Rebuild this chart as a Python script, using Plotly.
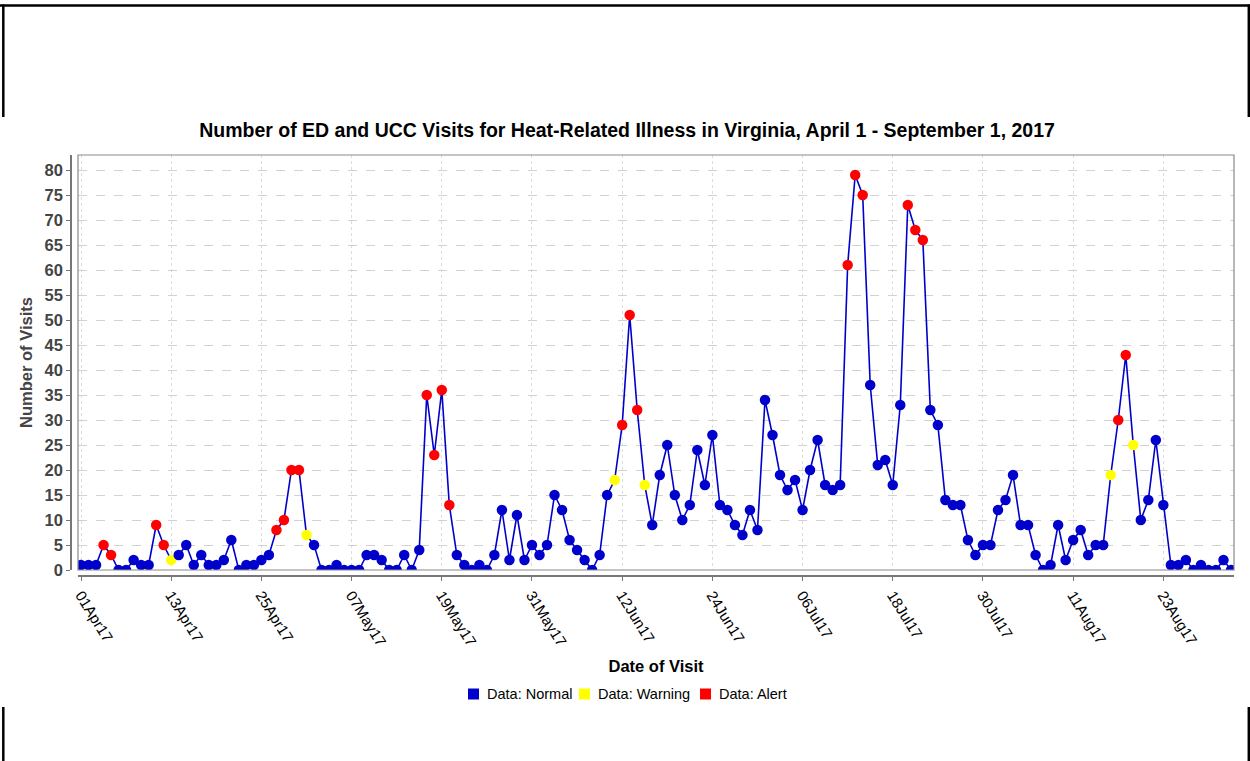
import pandas as pd
import plotly.graph_objects as go

# ---- data ----
dates = pd.date_range("2017-04-01", "2017-09-01", freq="D").strftime("%Y-%m-%d").tolist()

apr_vals = [1, 1, 1, 5, 3, 0, 0, 2, 1, 1, 9, 5, 2, 3, 5, 1, 3, 1, 1, 2, 6, 0, 1, 1, 2, 3, 8, 10, 20, 20]
may_vals = [7, 5, 0, 0, 1, 0, 0, 0, 3, 3, 2, 0, 0, 3, 0, 4, 35, 23, 36, 13, 3, 1, 0, 1, 0, 3, 12, 2, 11, 2, 5]
jun_vals = [3, 5, 15, 12, 6, 4, 2, 0, 3, 15, 18, 29, 51, 32, 17, 9, 19, 25, 15, 10, 13, 24, 17, 27, 13, 12, 9, 7, 12, 8]
jul_vals = [34, 27, 19, 16, 18, 12, 20, 26, 17, 16, 17, 61, 79, 75, 37, 21, 22, 17, 33, 73, 68, 66, 32, 29, 14, 13, 13, 6, 3, 5, 5]
aug_vals = [12, 14, 19, 9, 9, 3, 0, 1, 9, 2, 6, 8, 3, 5, 5, 19, 30, 43, 25, 10, 14, 26, 13, 1, 1, 2, 0, 1, 0, 0, 2]
sep_vals = [0]
visits = apr_vals + may_vals + jun_vals + jul_vals + aug_vals + sep_vals

warning_dates = ["2017-04-13", "2017-05-01", "2017-06-11", "2017-06-15", "2017-08-16", "2017-08-19"]
alert_dates = ["2017-04-04", "2017-04-05", "2017-04-11", "2017-04-12", "2017-04-27", "2017-04-28",
               "2017-04-29", "2017-04-30", "2017-05-17", "2017-05-18", "2017-05-19", "2017-05-20",
               "2017-06-12", "2017-06-13", "2017-06-14", "2017-07-12", "2017-07-13", "2017-07-14",
               "2017-07-20", "2017-07-21", "2017-07-22", "2017-08-17", "2017-08-18"]

tick_dates = ["2017-04-01", "2017-04-13", "2017-04-25", "2017-05-07", "2017-05-19", "2017-05-31",
              "2017-06-12", "2017-06-24", "2017-07-06", "2017-07-18", "2017-07-30", "2017-08-11",
              "2017-08-23"]
tick_labels = ["01Apr17", "13Apr17", "25Apr17", "07May17", "19May17", "31May17", "12Jun17",
               "24Jun17", "06Jul17", "18Jul17", "30Jul17", "11Aug17", "23Aug17"]

status_names = ["Data: Normal", "Data: Warning", "Data: Alert"]
status_colors = {"Data: Normal": "#0000CC", "Data: Warning": "#FFFF00", "Data: Alert": "#FF0000"}

status = []
for d in dates:
    if d in alert_dates:
        status.append("Data: Alert")
    elif d in warning_dates:
        status.append("Data: Warning")
    else:
        status.append("Data: Normal")

FONT = "Liberation Sans, Arial, sans-serif"

fig = go.Figure()
fig.add_trace(go.Scatter(x=dates, y=visits, mode="lines",
                         line=dict(color="#0000CC", width=1.6),
                         showlegend=False, hoverinfo="skip"))
fig.add_trace(go.Scatter(x=dates, y=visits, mode="markers",
                         marker=dict(size=10.5, color=[status_colors[s] for s in status],
                                     line=dict(width=0)),
                         showlegend=False, text=status))

W, H = 1250, 761
L, R, T, B = 71, 16, 155, 185
pw = W - L - R  # 1163
ph = H - T - B  # 421


def px_x(p):
    return (p - L) / pw


def px_y(p):
    return (H - B - p) / ph


frame = dict(color="black", width=2.5)
shapes = [
    # outer page frame pieces
    dict(type="line", xref="paper", yref="paper", x0=px_x(0), x1=px_x(1250), y0=px_y(5.5), y1=px_y(5.5), line=frame),
    dict(type="line", xref="paper", yref="paper", x0=px_x(3.3), x1=px_x(3.3), y0=px_y(4.5), y1=px_y(117), line=frame),
    dict(type="line", xref="paper", yref="paper", x0=px_x(1248.8), x1=px_x(1248.8), y0=px_y(4.5), y1=px_y(117), line=frame),
    dict(type="line", xref="paper", yref="paper", x0=px_x(3.3), x1=px_x(3.3), y0=px_y(707), y1=px_y(761), line=frame),
    dict(type="line", xref="paper", yref="paper", x0=px_x(1248.8), x1=px_x(1248.8), y0=px_y(707), y1=px_y(761), line=frame),
    # plot area border
    dict(type="rect", xref="x domain", yref="y domain", x0=0, x1=1, y0=0, y1=1,
         line=dict(color="#8a8a8a", width=1.2), layer="above"),
]

# manual legend (square swatch + label), laid out like the original
legend_square_left = [468, 579, 700]
legend_y = 694
annotations = []
for name, sx in zip(status_names, legend_square_left):
    shapes.append(dict(type="rect", xref="paper", yref="paper",
                       x0=px_x(sx), x1=px_x(sx + 11), y0=px_y(legend_y + 5.5), y1=px_y(legend_y - 5.5),
                       fillcolor=status_colors[name], line=dict(width=0)))
    annotations.append(dict(text=name, xref="paper", yref="paper", x=px_x(sx + 17), y=px_y(legend_y),
                            xanchor="left", yanchor="middle", showarrow=False,
                            font=dict(size=14.5, family=FONT, color="black")))

fig.update_layout(
    width=W, height=H,
    margin=dict(l=L, r=R, t=T, b=B),
    paper_bgcolor="white", plot_bgcolor="white",
    font=dict(family=FONT, color="black"),
    showlegend=False,
    title=dict(text="<b>Number of ED and UCC Visits for Heat-Related Illness in Virginia, April 1 - September 1, 2017</b>",
               x=0.5016, xref="container", xanchor="center",
               y=1 - 130 / H, yref="container", yanchor="middle",
               font=dict(size=19.5, family=FONT, color="black")),
    xaxis=dict(
        type="date",
        domain=[7 / pw, 1],
        anchor="free", position=0,
        range=["2017-03-31 14:24", "2017-09-01 09:36"],
        tickmode="array", tickvals=tick_dates, ticktext=tick_labels,
        tickangle=58,
        tickfont=dict(size=15, family=FONT, color="black"),
        ticks="outside", ticklen=4, tickcolor="#777777",
        showline=True, linecolor="#777777", linewidth=1.5,
        showgrid=True, gridcolor="#dddddd", griddash="dot", gridwidth=1,
        zeroline=False,
        title=dict(text="<b>Date of Visit</b>", font=dict(size=16.5, family=FONT, color="black"), standoff=11),
    ),
    yaxis=dict(
        domain=[6 / ph, 1],
        anchor="free", position=0,
        range=[0, 83],
        tickmode="linear", tick0=0, dtick=5,
        tickfont=dict(size=16.5, family=FONT, color="#444444", weight="bold"),
        ticks="outside", ticklen=4, tickcolor="#777777",
        showline=True, linecolor="#777777", linewidth=1.5,
        showgrid=True, gridcolor="#d2d2d2", griddash="dash", gridwidth=1,
        zeroline=False,
        title=dict(text="<b>Number of Visits</b>", font=dict(size=16.5, family=FONT, color="#444444"), standoff=7),
    ),
    shapes=shapes,
    annotations=annotations,
)

fig.write_html("out.html", config={"displayModeBar": False},
               post_script="document.body.style.margin='0';document.body.style.overflow='hidden';")
